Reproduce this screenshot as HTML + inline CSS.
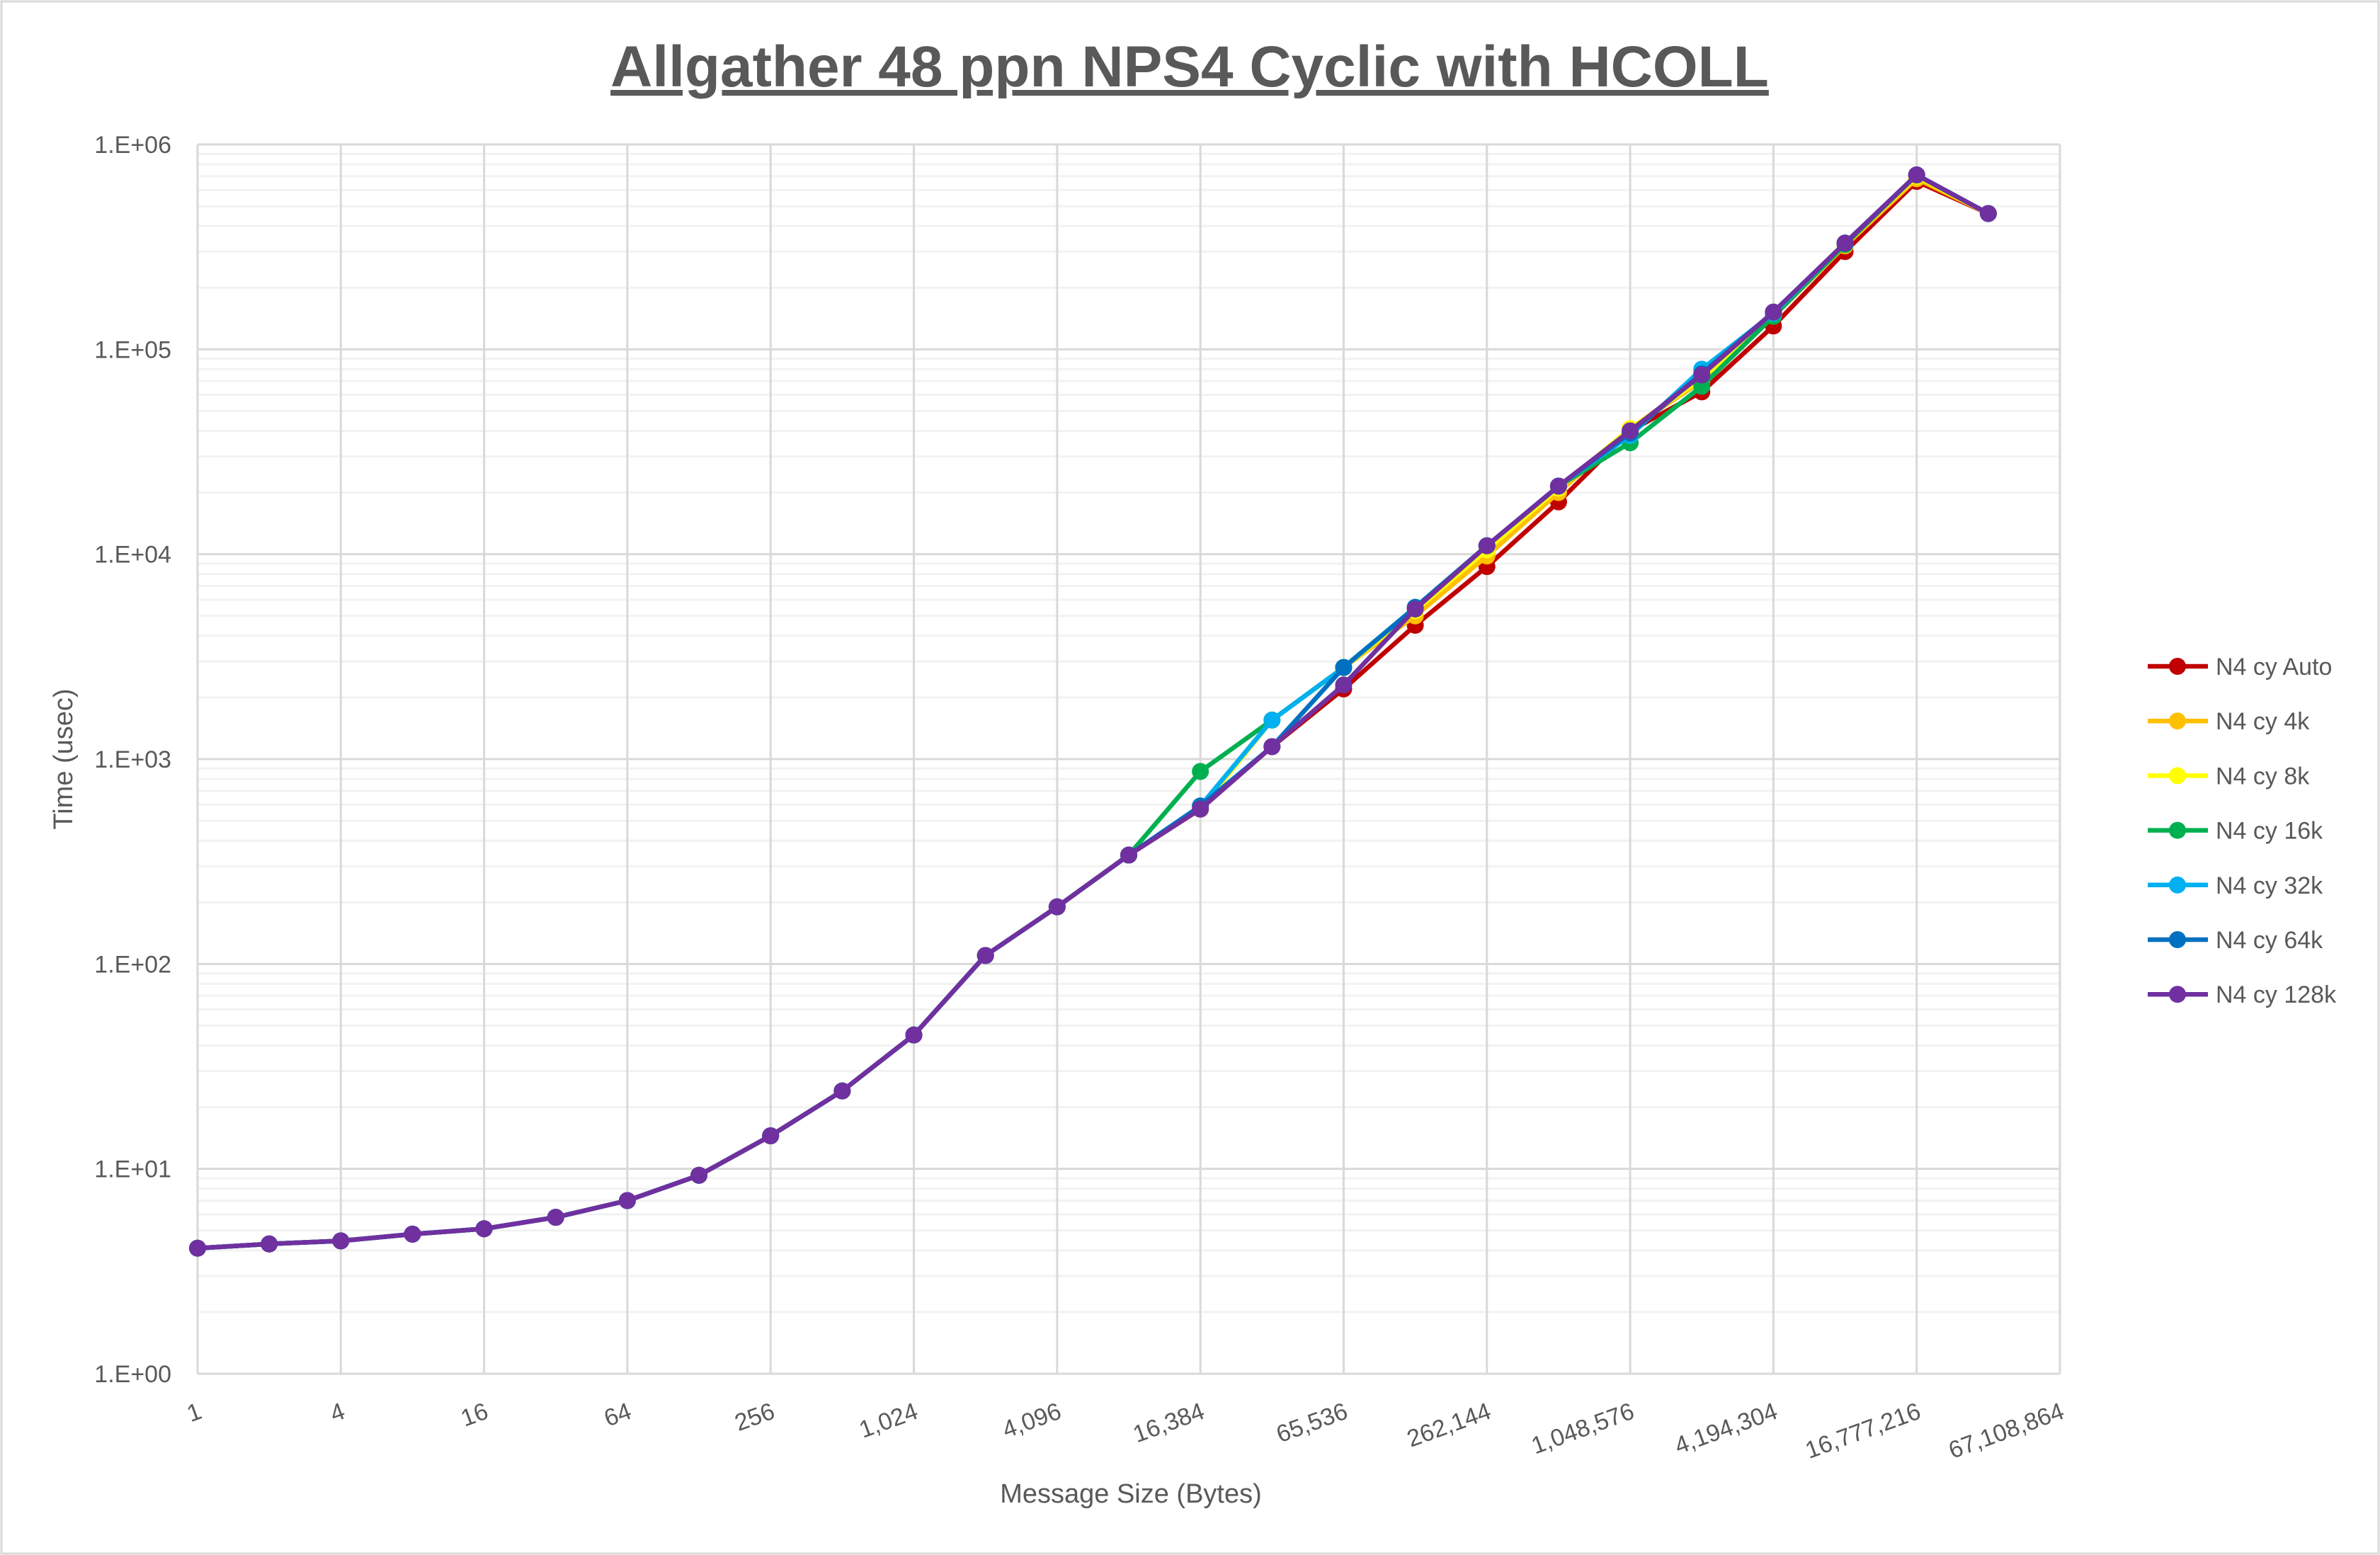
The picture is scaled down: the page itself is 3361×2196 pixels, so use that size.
<!DOCTYPE html>
<html><head><meta charset="utf-8"><style>
html,body{margin:0;padding:0;background:#fff}
svg{display:block;font-family:"Liberation Sans",Calibri,sans-serif}
</style></head><body>
<svg id="chart" width="3361" height="2196" viewBox="0 0 3361 2196" xmlns="http://www.w3.org/2000/svg">
<rect x="2" y="2" width="3357" height="2192" fill="#fff" stroke="#d9d9d9" stroke-width="3"/>
<text x="1680" y="122" text-anchor="middle" font-size="82" font-weight="bold" fill="#595959" text-decoration="underline">Allgather 48 ppn NPS4 Cyclic with HCOLL</text>
<g id="grid"></g>
<g id="axes"></g>
<g id="series"></g>
<g id="legend"></g>
<text x="1597" y="2122" text-anchor="middle" font-size="38" fill="#595959">Message Size (Bytes)</text>
<text transform="translate(102,1072) rotate(-90)" text-anchor="middle" font-size="38" fill="#595959">Time (usec)</text>
</svg>
<script>
const xExps = [0,1,2,3,4,5,6,7,8,9,10,11,12,13,14,15,16,17,18,19,20,21,22,23,24,25];
const xTickLabels = ["1","4","16","64","256","1,024","4,096","16,384","65,536","262,144","1,048,576","4,194,304","16,777,216","67,108,864"];
const yTickLabels = ["1.E+00","1.E+01","1.E+02","1.E+03","1.E+04","1.E+05","1.E+06"];
const seriesNames = ["N4 cy Auto","N4 cy 4k","N4 cy 8k","N4 cy 16k","N4 cy 32k","N4 cy 64k","N4 cy 128k"];
const seriesColors = ["#c00000","#ffc000","#ffff00","#00b050","#00b0f0","#0070c0","#7030a0"];
const common = [4.1,4.3,4.45,4.8,5.1,5.8,7.0,9.3,14.5,24,45,110,190,340];
const sAuto = common.concat([570,1150,2200,4500,8700,18000,40000,62000,130000,300000,660000,460000]);
const s4k   = common.concat([570,1550,2800,5000,9800,20000,41000,70000,145000,320000,680000,460000]);
const s8k   = common.concat([570,1550,2800,5300,10500,21000,41000,72000,148000,325000,700000,460000]);
const s16k  = common.concat([870,1550,2800,5500,11000,21500,35000,66000,145000,325000,710000,460000]);
const s32k  = common.concat([590,1550,2800,5500,11000,21500,38000,80000,150000,330000,710000,460000]);
const s64k  = common.concat([590,1150,2800,5500,11000,21500,39000,76000,152000,330000,710000,460000]);
const s128k = common.concat([570,1150,2300,5400,11000,21500,40000,75000,152000,330000,710000,460000]);
const seriesValues = [sAuto,s4k,s8k,s16k,s32k,s64k,s128k];

const L=279,R=2909,T=204,B=1940;
const NS="http://www.w3.org/2000/svg";
function xS(e){return L+(R-L)*e/26;}
function yS(v){return B-(B-T)*Math.log10(v)/6;}
function mk(tag,attrs,parent){const el=document.createElementNS(NS,tag);for(const k in attrs)el.setAttribute(k,attrs[k]);parent.appendChild(el);return el;}
const grid=document.getElementById('grid'),axes=document.getElementById('axes'),ser=document.getElementById('series'),leg=document.getElementById('legend');
// minor horizontal
for(let d=0;d<6;d++)for(let m=2;m<10;m++){const y=yS(Math.pow(10,d)*m);const l=mk('line',{x1:L,x2:R,y1:y,y2:y,stroke:'#f2f2f2','stroke-width':3},grid);

}
for(let i=0;i<yTickLabels.length;i++){const y=yS(Math.pow(10,i));const l=mk('line',{x1:L,x2:R,y1:y,y2:y,stroke:'#d9d9d9','stroke-width':3},grid);


const t=mk('text',{x:242,y:y+12,'text-anchor':'end','font-size':34,fill:'#595959'},axes);t.textContent=yTickLabels[i];

}
for(let i=0;i<xTickLabels.length;i++){const x=xS(i*2);const l=mk('line',{x1:x,x2:x,y1:T,y2:B,stroke:'#d9d9d9','stroke-width':3},grid);


const t=mk('text',{transform:`translate(${x+8},${B+62}) rotate(-20)`,'text-anchor':'end','font-size':34,fill:'#595959'},axes);t.textContent=xTickLabels[i];

}
for(let s=0;s<seriesValues.length;s++){const g=mk('g',{},ser);


const pts=seriesValues[s].map((v,i)=>xS(xExps[i])+','+yS(v)).join(' ');
mk('polyline',{points:pts,fill:'none',stroke:seriesColors[s],'stroke-width':6.5,'stroke-linejoin':'round'},g);
seriesValues[s].forEach((v,i)=>{const c=mk('circle',{cx:xS(xExps[i]),cy:yS(v),r:12,fill:seriesColors[s]},g);

});
const ly=941+77.2*s;const lg=mk('g',{},leg);


mk('line',{x1:3033,x2:3118,y1:ly,y2:ly,stroke:seriesColors[s],'stroke-width':6.5},lg);
mk('circle',{cx:3075,cy:ly,r:12,fill:seriesColors[s]},lg);
const t=mk('text',{x:3129,y:ly+12,'font-size':34,fill:'#595959'},lg);t.textContent=seriesNames[s];}
</script>
</body></html>
